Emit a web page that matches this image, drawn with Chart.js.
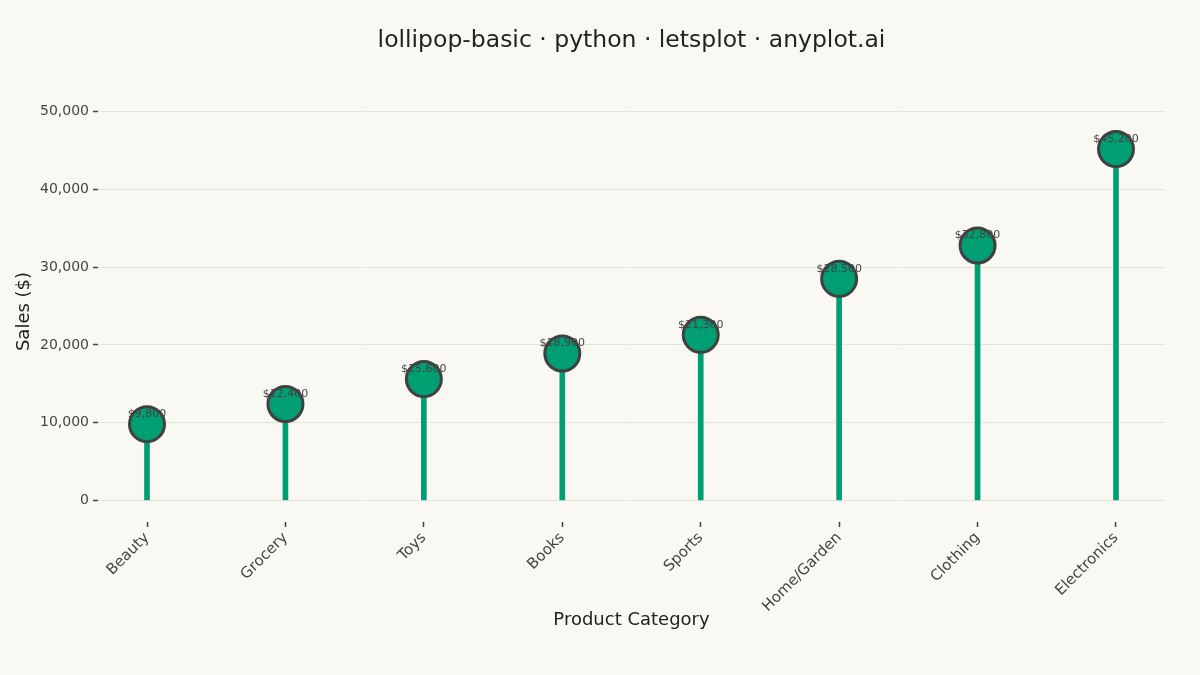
<!DOCTYPE html>
<html>
<head>
<meta charset="utf-8">
<script src="https://cdn.jsdelivr.net/npm/chart.js@4/dist/chart.umd.min.js"></script>
<style>
  html, body { margin: 0; padding: 0; background: #faf8f2; }
  #wrap { width: 1200px; height: 675px; }
</style>
</head>
<body>
<div id="wrap"><canvas id="chartLollipop"></canvas></div>
<script>
// donnees
const categories = ['Beauty', 'Grocery', 'Toys', 'Books', 'Sports', 'Home/Garden', 'Clothing', 'Electronics'];
const sales = [9800, 12400, 15600, 18900, 21300, 28500, 32800, 45200];
const yTicks = [0, 10000, 20000, 30000, 40000, 50000];
const titleText = 'lollipop-basic · python · letsplot · anyplot.ai';

const points = sales.map((v, i) => ({ x: i, y: v }));

// etiquettes "$9,800" au-dessus de chaque point + titre centre sur la zone du graphique
const valueLabels = {
    id: 'valueLabels',
    afterDatasetsDraw(chart) {
        const meta = chart.getDatasetMeta(1);
        const ctx = chart.ctx;
        ctx.save();
        ctx.font = '11px "DejaVu Sans"';
        ctx.fillStyle = '#444444';
        ctx.textAlign = 'center';
        ctx.textBaseline = 'middle';
        meta.data.forEach((pt, i) => {
            ctx.fillText('$' + sales[i].toLocaleString('en-US'), pt.x, pt.y - 10);
        });
        const area = chart.chartArea;
        ctx.font = '23.5px "DejaVu Sans"';
        ctx.fillStyle = '#222222';
        ctx.fillText(titleText, (area.left + area.right) / 2, 41);
        ctx.restore();
    }
};

Chart.defaults.font.family = '"DejaVu Sans", sans-serif';
Chart.defaults.color = '#444444';

const lollipop = new Chart(
    document.getElementById('chartLollipop'), {
        type: 'bar',
        data: {
            datasets: [{
                type: 'bar',
                data: points,
                backgroundColor: '#009e73',
                barThickness: 5,
                order: 2
            }, {
                type: 'scatter',
                data: points,
                backgroundColor: '#009e73',
                borderColor: '#404040',
                borderWidth: 3,
                pointRadius: 17.5,
                order: 1
            }]
        },
        options: {
            responsive: true,
            maintainAspectRatio: false,
            animation: false,
            layout: { padding: { top: 104, left: 0, right: 35, bottom: 0 } },
            plugins: {
                legend: { display: false },
                tooltip: { enabled: false },
                title: { display: false }
            },
            scales: {
                x: {
                    type: 'linear',
                    offset: false,
                    min: -0.354,
                    max: 7.354,
                    afterBuildTicks: (axis) => {
                        axis.ticks = categories.map((c, i) => ({ value: i }));
                    },
                    afterFit: (axis) => { axis.height = 156; },
                    ticks: {
                        callback: (v) => categories[v],
                        minRotation: 45,
                        maxRotation: 45,
                        autoSkip: false,
                        color: '#444444',
                        font: { size: 15 },
                        padding: 2
                    },
                    grid: {
                        offset: false,
                        drawOnChartArea: false,
                        tickLength: 8,
                        tickColor: '#444444',
                        tickWidth: 1.5,
                        tickBorderDash: [0, 3, 5, 100]
                    },
                    border: { display: false },
                    title: {
                        display: true,
                        text: 'Product Category',
                        color: '#222222',
                        font: { size: 18 },
                        padding: { top: 0, bottom: 44 }
                    }
                },
                y: {
                    min: -2400,
                    max: 51000,
                    afterBuildTicks: (axis) => {
                        axis.ticks = yTicks.map(v => ({ value: v }));
                    },
                    afterFit: (axis) => { axis.width = 98; },
                    ticks: {
                        callback: (v) => v.toLocaleString('en-US'),
                        color: '#444444',
                        font: { size: 14 },
                        padding: 3
                    },
                    grid: {
                        color: '#e6e3dc',
                        lineWidth: 1,
                        tickLength: 6,
                        tickColor: '#444444',
                        tickWidth: 1.5,
                        tickBorderDash: [0, 1, 5, 100]
                    },
                    border: { display: false },
                    title: {
                        display: true,
                        text: 'Sales ($)',
                        color: '#222222',
                        font: { size: 18 },
                        padding: { top: 14, bottom: 4 }
                    }
                }
            }
        },
        plugins: [valueLabels]
    }
);
</script>
</body>
</html>
